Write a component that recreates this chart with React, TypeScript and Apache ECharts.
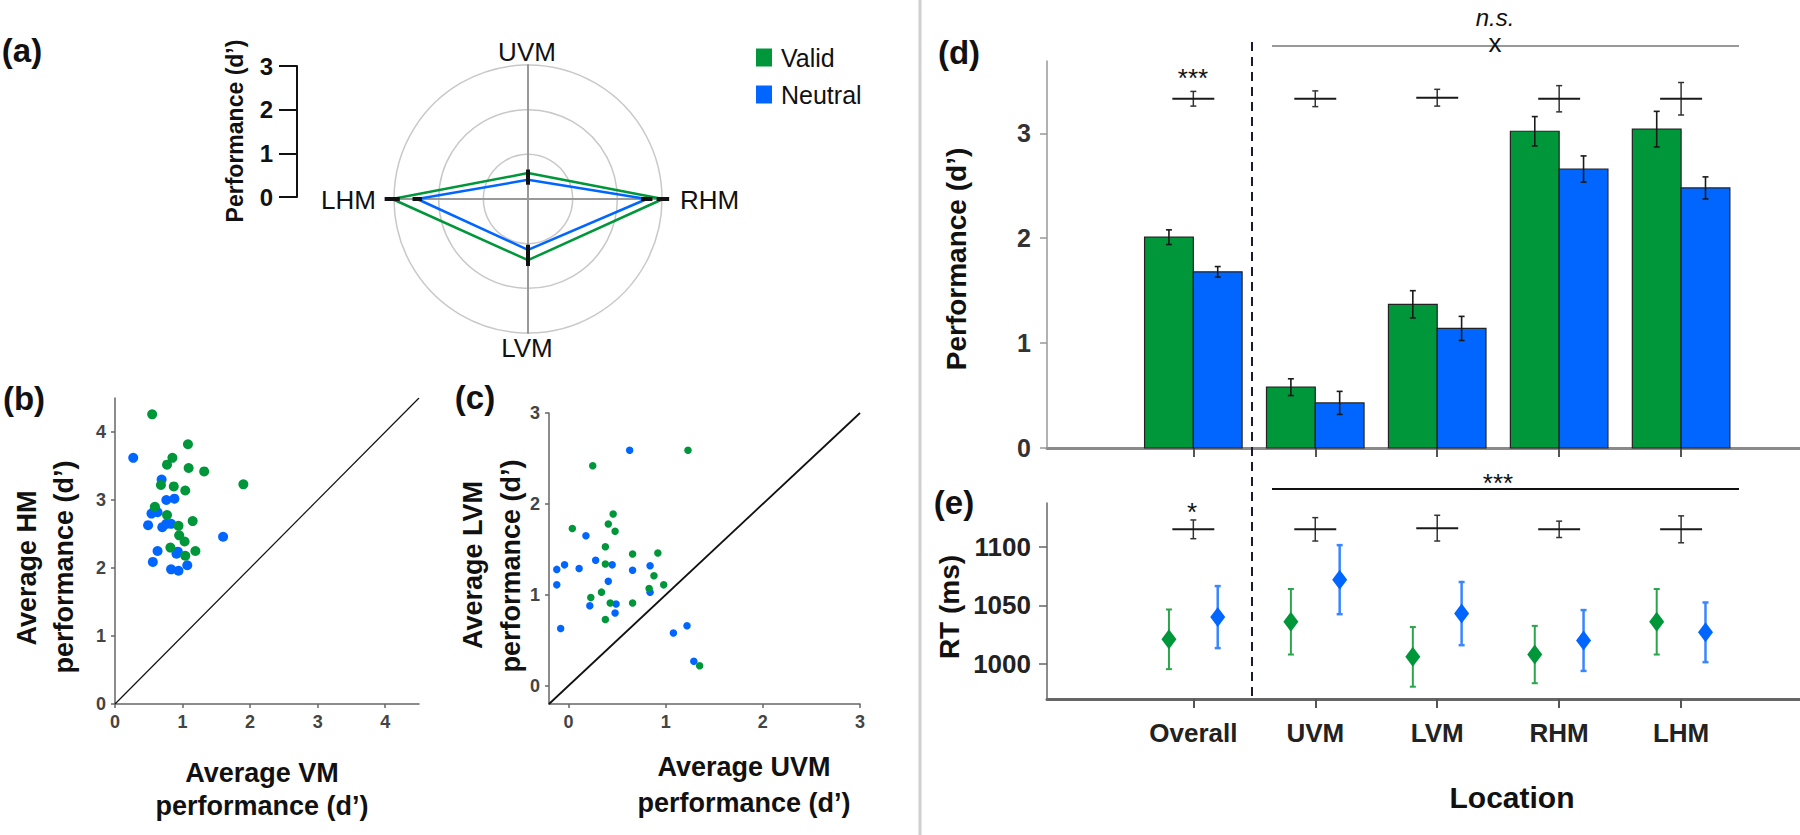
import React, { useEffect, useRef } from 'react';
import * as echarts from 'echarts';

const GREEN = '#00963a';
const BLUE = '#0066ff';
const GREEN_ERR = '#2aa64a';
const BLUE_ERR = '#3a86ff';
const FONT = '"Liberation Sans", Arial, Helvetica, sans-serif';

// ---- Panel d / e data ----
const locations = ['Overall', 'UVM', 'LVM', 'RHM', 'LHM'];
const validPerf = [2.01, 0.58, 1.37, 3.02, 3.04];
const validPerfErr = [0.07, 0.08, 0.13, 0.14, 0.17];
const neutralPerf = [1.68, 0.43, 1.14, 2.66, 2.48];
const neutralPerfErr = [0.05, 0.11, 0.115, 0.125, 0.105];
const perfDiff = [3.33, 3.33, 3.34, 3.33, 3.33];
const perfDiffErr = [0.07, 0.075, 0.08, 0.125, 0.155];

const validRT = [1021, 1036, 1006, 1008, 1036];
const validRTErr = [25.5, 28, 25.5, 24.5, 28];
const neutralRT = [1040, 1072, 1043, 1020, 1027];
const neutralRTErr = [26.5, 29.5, 27, 26, 25.5];
const rtDiff = [1115, 1115, 1116, 1115, 1115];
const rtDiffErr = [8, 10, 11, 7, 11.5];

// ---- Panel a (radar) ----
const radarAxes = ['UVM', 'LHM', 'LVM', 'RHM']; // counter-clockwise from top
const radarAngles = [0, 90, 180, 270];

// ---- Panel b: HM vs VM ----
const hmVmValid = [[0.55, 4.26], [1.08, 3.82], [0.85, 3.62], [0.77, 3.52], [1.09, 3.47], [1.32, 3.42], [1.90, 3.23], [0.68, 3.22], [0.87, 3.20], [1.04, 3.14], [0.59, 2.90], [0.77, 2.78], [1.15, 2.69], [0.94, 2.62], [0.95, 2.48], [1.03, 2.39], [0.82, 2.30], [1.19, 2.25], [1.04, 2.18]];
const hmVmNeutral = [[0.27, 3.62], [0.69, 3.30], [0.76, 3.00], [0.88, 3.02], [0.54, 2.80], [0.63, 2.82], [0.59, 2.88], [0.49, 2.63], [0.70, 2.60], [0.76, 2.65], [0.83, 2.65], [1.60, 2.46], [0.63, 2.25], [0.93, 2.24], [0.91, 2.21], [0.56, 2.09], [1.07, 2.04], [0.83, 1.98], [0.94, 1.96]];
const bTicks = [0, 1, 2, 3, 4];

// ---- Panel c: LVM vs UVM ----
const lvmUvmValid = [[1.23, 2.59], [0.25, 2.42], [0.46, 1.89], [0.41, 1.78], [0.04, 1.73], [0.48, 1.70], [0.38, 1.53], [0.66, 1.45], [0.92, 1.46], [0.38, 1.34], [0.88, 1.21], [0.98, 1.11], [0.83, 1.07], [0.34, 1.03], [0.23, 0.97], [0.43, 0.91], [0.66, 0.91], [0.38, 0.73], [1.35, 0.22]];
const lvmUvmNeutral = [[0.63, 2.59], [0.18, 1.65], [0.28, 1.38], [-0.04, 1.33], [-0.12, 1.28], [0.11, 1.29], [0.45, 1.33], [0.66, 1.27], [0.84, 1.32], [0.41, 1.15], [-0.12, 1.11], [0.84, 1.03], [0.22, 0.88], [0.49, 0.90], [0.48, 0.80], [-0.08, 0.63], [1.08, 0.58], [1.22, 0.66], [1.29, 0.27]];
const cTicks = [0, 1, 2, 3];

const perfTicks = [0, 1, 2, 3];
const rtTicks = [1000, 1050, 1100];
const locTicks = [0, 1, 2, 3, 4];

function txt(text: string, x: number, y: number, size: number, o: any = {}) {
  return {
    type: 'text', x, y, rotation: o.rot || 0, silent: true, z: 20,
    style: {
      text, fill: o.color || '#111', fontSize: size, fontWeight: o.weight || 'bold',
      fontStyle: o.fstyle || 'normal', fontFamily: FONT, align: o.align || 'center', verticalAlign: 'middle',
    },
  };
}
function gline(x1: number, y1: number, x2: number, y2: number, stroke: string, w: number, dash?: number[]) {
  return { type: 'line', silent: true, z: 15, shape: { x1, y1, x2, y2 }, style: { stroke, lineWidth: w, lineDash: dash } };
}

function barRender(offset: number, color: string) {
  return (params: any, api: any) => {
    const x = api.value(0), y = api.value(1);
    const p0 = api.coord([x + offset, y]);
    const p1 = api.coord([x + offset + 0.4, 0]);
    return {
      type: 'rect',
      shape: { x: p0[0], y: p0[1], width: p1[0] - p0[0], height: p1[1] - p0[1] },
      style: { fill: color, stroke: '#222', lineWidth: 1.2 },
    };
  };
}
function errRender(dx: number, color: string, lw: number, cap: number, half?: number) {
  return (params: any, api: any) => {
    const x = api.value(0) + dx, y = api.value(1), e = api.value(2);
    const t = api.coord([x, y + e]);
    const b = api.coord([x, y - e]);
    const st = { stroke: color, lineWidth: lw };
    const children: any[] = [
      { type: 'line', shape: { x1: t[0], y1: t[1], x2: b[0], y2: b[1] }, style: st },
      { type: 'line', shape: { x1: t[0] - cap, y1: t[1], x2: t[0] + cap, y2: t[1] }, style: st },
      { type: 'line', shape: { x1: b[0] - cap, y1: b[1], x2: b[0] + cap, y2: b[1] }, style: st },
    ];
    if (half) {
      const l = api.coord([x - half, y]);
      const r = api.coord([x + half, y]);
      children.push({ type: 'line', shape: { x1: l[0], y1: l[1], x2: r[0], y2: r[1] }, style: { stroke: '#1a1a1a', lineWidth: 2 } });
    }
    return { type: 'group', children };
  };
}

function buildOption(): any {
  const radarIdx = radarAxes.map((n) => locations.indexOf(n));
  const radarErrData: number[][] = [];
  radarIdx.forEach((i, j) => {
    radarErrData.push([validPerf[i], radarAngles[j], validPerfErr[i]]);
    radarErrData.push([neutralPerf[i], radarAngles[j], neutralPerfErr[i]]);
  });
  const idx = locations.map((_, i) => i);

  const smallAxis = (gridIndex: number, min: number, max: number, ticks: number[]) => ({
    gridIndex, type: 'value', min, max,
    axisLine: { show: true, onZero: false, lineStyle: { color: '#666', width: 1.5 } },
    axisTick: { show: true, customValues: ticks, length: 4, lineStyle: { color: '#666', width: 1.5 } },
    axisLabel: { customValues: ticks, fontSize: 18, fontWeight: 'bold', color: '#444', margin: 9, fontFamily: FONT },
    splitLine: { show: false },
  });
  const locX = (gridIndex: number, labels: boolean) => ({
    gridIndex, type: 'value', min: -1.2, max: 4.975,
    axisLine: { show: true, onZero: false, lineStyle: { color: gridIndex === 3 ? '#8a8a8a' : '#666', width: 3 } },
    axisTick: { show: true, customValues: locTicks, length: 9, lineStyle: { color: '#555', width: 2 } },
    axisLabel: labels
      ? { customValues: locTicks, formatter: (v: number) => locations[Math.round(v)] || '', fontSize: 26, fontWeight: 'bold', color: '#222', margin: 21, fontFamily: FONT }
      : { show: false },
    splitLine: { show: false },
  });

  return {
    animation: false,
    backgroundColor: '#fff',
    textStyle: { fontFamily: FONT },
    legend: {
      left: 751, top: 40, orient: 'vertical', itemWidth: 16, itemHeight: 18, itemGap: 12,
      selectedMode: false,
      textStyle: { fontSize: 25, color: '#111', fontFamily: FONT, padding: [0, 0, 0, 4] },
      data: [
        { name: 'Valid', icon: 'rect', itemStyle: { color: GREEN, borderWidth: 0 } },
        { name: 'Neutral', icon: 'rect', itemStyle: { color: BLUE, borderWidth: 0 } },
      ],
    },
    radar: {
      center: [528, 199], radius: 134, startAngle: 90, splitNumber: 3, shape: 'circle',
      indicator: radarAxes.map((n) => ({ name: n, min: 0, max: 3 })),
      axisName: { show: false },
      axisLine: { lineStyle: { color: '#999', width: 2 } },
      splitLine: { lineStyle: { color: '#c8c8c8', width: 1.5 } },
      splitArea: { show: false },
    },
    polar: { center: [528, 199], radius: 134 },
    angleAxis: { type: 'value', min: 0, max: 360, startAngle: 90, clockwise: false, show: false },
    radiusAxis: { type: 'value', min: 0, max: 3, show: false },
    grid: [
      { left: 297, top: 66, width: 10, height: 131 },
      { left: 115, top: 398, width: 304, height: 306 },
      { left: 549, top: 413, width: 311, height: 291 },
      { left: 1047, top: 61, width: 753, height: 387 },
      { left: 1047, top: 503, width: 753, height: 196 },
    ],
    xAxis: [
      { gridIndex: 0, type: 'value', show: false, min: 0, max: 1 },
      smallAxis(1, 0, 4.5, bTicks),
      smallAxis(2, -0.2, 3, cTicks),
      locX(3, false),
      locX(4, true),
    ],
    yAxis: [
      {
        gridIndex: 0, type: 'value', min: 0, max: 3, interval: 1,
        axisLine: { show: true, onZero: false, lineStyle: { color: '#111', width: 2 } },
        axisTick: { show: true, length: 18, lineStyle: { color: '#111', width: 2 } },
        axisLabel: { fontSize: 24, fontWeight: 'bold', color: '#111', margin: 24, fontFamily: FONT },
        splitLine: { show: false },
      },
      smallAxis(1, 0, 4.5, bTicks),
      smallAxis(2, -0.2, 3, cTicks),
      {
        gridIndex: 3, type: 'value', min: 0, max: 3.69,
        axisLine: { show: true, onZero: false, lineStyle: { color: '#999', width: 1.5 } },
        axisTick: { show: true, customValues: perfTicks, length: 7, lineStyle: { color: '#999', width: 1.5 } },
        axisLabel: { customValues: perfTicks, fontSize: 25, fontWeight: 'bold', color: '#333', margin: 16, fontFamily: FONT },
        splitLine: { show: false },
      },
      {
        gridIndex: 4, type: 'value', min: 970, max: 1137.5,
        axisLine: { show: true, onZero: false, lineStyle: { color: '#666', width: 1.5 } },
        axisTick: { show: true, customValues: rtTicks, length: 8, lineStyle: { color: '#666', width: 1.5 } },
        axisLabel: { customValues: rtTicks, formatter: (v: number) => String(Math.round(v)), fontSize: 26, fontWeight: 'bold', color: '#222', margin: 16, fontFamily: FONT },
        splitLine: { show: false },
      },
    ],
    series: [
      {
        type: 'radar', symbol: 'none',
        data: [
          { name: 'Valid', value: radarIdx.map((i) => validPerf[i]), lineStyle: { color: GREEN, width: 2.5 }, itemStyle: { color: GREEN } },
          { name: 'Neutral', value: radarIdx.map((i) => neutralPerf[i]), lineStyle: { color: BLUE, width: 2.5 }, itemStyle: { color: BLUE } },
        ],
      },
      {
        type: 'custom', name: 'radarErr', coordinateSystem: 'polar', polarIndex: 0, z: 5,
        data: radarErrData,
        renderItem: (params: any, api: any) => {
          const r = api.value(0), a = api.value(1), e = api.value(2);
          const p0 = api.coord([r - e, a]);
          const p1 = api.coord([r + e, a]);
          return { type: 'line', shape: { x1: p0[0], y1: p0[1], x2: p1[0], y2: p1[1] }, style: { stroke: '#111', lineWidth: 4 } };
        },
      },
      // panel b
      { type: 'line', xAxisIndex: 1, yAxisIndex: 1, data: [[0, 0], [4.5, 4.5]], showSymbol: false, silent: true, lineStyle: { color: '#111', width: 1.2 } },
      { type: 'scatter', name: 'HM-VM neutral', xAxisIndex: 1, yAxisIndex: 1, data: hmVmNeutral, symbolSize: 10, itemStyle: { color: BLUE, opacity: 1 } },
      { type: 'scatter', name: 'HM-VM valid', xAxisIndex: 1, yAxisIndex: 1, data: hmVmValid, symbolSize: 10, itemStyle: { color: GREEN, opacity: 1 } },
      // panel c
      { type: 'line', xAxisIndex: 2, yAxisIndex: 2, data: [[-0.2, -0.2], [3, 3]], showSymbol: false, silent: true, lineStyle: { color: '#111', width: 1.8 } },
      { type: 'scatter', name: 'LVM-UVM neutral', xAxisIndex: 2, yAxisIndex: 2, data: lvmUvmNeutral, symbolSize: 7.5, itemStyle: { color: BLUE, opacity: 1 } },
      { type: 'scatter', name: 'LVM-UVM valid', xAxisIndex: 2, yAxisIndex: 2, data: lvmUvmValid, symbolSize: 7.5, itemStyle: { color: GREEN, opacity: 1 } },
      // panel d
      { type: 'custom', name: 'Valid d', xAxisIndex: 3, yAxisIndex: 3, data: idx.map((i) => [i, validPerf[i]]), renderItem: barRender(-0.4, GREEN), z: 2 },
      { type: 'custom', name: 'Neutral d', xAxisIndex: 3, yAxisIndex: 3, data: idx.map((i) => [i, neutralPerf[i]]), renderItem: barRender(0, BLUE), z: 2 },
      { type: 'custom', name: 'Valid d err', xAxisIndex: 3, yAxisIndex: 3, data: idx.map((i) => [i, validPerf[i], validPerfErr[i]]), renderItem: errRender(-0.2, '#1a1a1a', 1.6, 3), z: 3 },
      { type: 'custom', name: 'Neutral d err', xAxisIndex: 3, yAxisIndex: 3, data: idx.map((i) => [i, neutralPerf[i], neutralPerfErr[i]]), renderItem: errRender(0.2, '#1a1a1a', 1.6, 3), z: 3 },
      { type: 'custom', name: 'Diff d', xAxisIndex: 3, yAxisIndex: 3, data: idx.map((i) => [i, perfDiff[i], perfDiffErr[i]]), renderItem: errRender(0, '#333', 1.5, 3, 0.172), z: 3 },
      // panel e
      { type: 'custom', name: 'Valid e err', xAxisIndex: 4, yAxisIndex: 4, data: idx.map((i) => [i, validRT[i], validRTErr[i]]), renderItem: errRender(-0.2, GREEN_ERR, 2, 3), z: 3 },
      { type: 'custom', name: 'Neutral e err', xAxisIndex: 4, yAxisIndex: 4, data: idx.map((i) => [i, neutralRT[i], neutralRTErr[i]]), renderItem: errRender(0.2, BLUE_ERR, 2.5, 3), z: 3 },
      { type: 'scatter', name: 'Valid RT', xAxisIndex: 4, yAxisIndex: 4, symbol: 'diamond', symbolSize: [15, 20], data: idx.map((i) => [i - 0.2, validRT[i]]), itemStyle: { color: GREEN, opacity: 1 }, z: 4 },
      { type: 'scatter', name: 'Neutral RT', xAxisIndex: 4, yAxisIndex: 4, symbol: 'diamond', symbolSize: [15, 20], data: idx.map((i) => [i + 0.2, neutralRT[i]]), itemStyle: { color: BLUE, opacity: 1 }, z: 4 },
      { type: 'custom', name: 'Diff e', xAxisIndex: 4, yAxisIndex: 4, data: idx.map((i) => [i, rtDiff[i], rtDiffErr[i]]), renderItem: errRender(0, '#333', 1.5, 3, 0.172), z: 3 },
    ],
    graphic: [
      gline(920, 0, 920, 835, '#cfcfcf', 3),
      gline(1252, 42, 1252, 700, '#1a1a2e', 2, [9, 6]),
      gline(1272, 46, 1739, 46, '#777', 1.5),
      gline(1272, 489, 1739, 489, '#111', 2),
      txt('(a)', 22, 50, 33),
      txt('(b)', 24, 398, 33),
      txt('(c)', 475, 397, 33),
      txt('(d)', 959, 52, 33),
      txt('(e)', 954, 502, 33),
      txt('UVM', 527, 52, 26, { weight: 'normal' }),
      txt('LVM', 527, 348, 26, { weight: 'normal' }),
      txt('LHM', 376, 200, 26, { weight: 'normal', align: 'right' }),
      txt('RHM', 680, 200, 26, { weight: 'normal', align: 'left' }),
      txt('Performance (d’)', 235, 131, 23, { rot: Math.PI / 2 }),
      txt('Average HM', 27, 568, 27, { rot: Math.PI / 2 }),
      txt('performance (d’)', 64, 567, 27, { rot: Math.PI / 2 }),
      txt('Average VM', 262, 773, 27),
      txt('performance (d’)', 262, 806, 27),
      txt('Average LVM', 473, 565, 27, { rot: Math.PI / 2 }),
      txt('performance (d’)', 511, 566, 27, { rot: Math.PI / 2 }),
      txt('Average UVM', 744, 767, 27),
      txt('performance (d’)', 744, 803, 27),
      txt('Performance (d’)', 956, 259, 28, { rot: Math.PI / 2 }),
      txt('RT (ms)', 949, 607, 28, { rot: Math.PI / 2 }),
      txt('Location', 1512, 797, 30),
      txt('***', 1193, 78, 26, { weight: 'normal' }),
      txt('n.s.', 1495, 17, 24, { weight: 'normal', fstyle: 'italic' }),
      txt('x', 1495, 43, 26, { weight: 'normal' }),
      txt('***', 1498, 483, 26, { weight: 'normal' }),
      txt('*', 1192, 512, 26, { weight: 'normal' }),
    ],
  };
}

export default function App() {
  const ref = useRef<HTMLDivElement>(null);
  useEffect(() => {
    const chart = echarts.init(ref.current as HTMLDivElement, null, { renderer: 'svg' });
    chart.setOption(buildOption());
    return () => chart.dispose();
  }, []);
  return (
    <div
      ref={ref}
      style={{ position: 'absolute', left: 0, top: 0, width: 1800, height: 835, background: '#fff' }}
    />
  );
}
